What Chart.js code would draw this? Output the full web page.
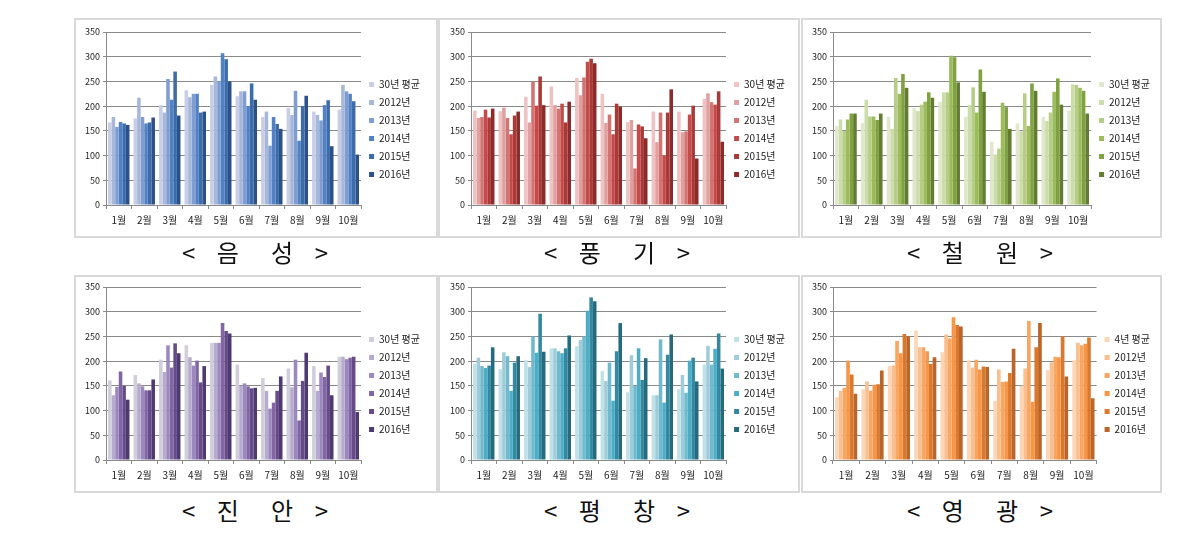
<!DOCTYPE html>
<html>
<head>
<meta charset="utf-8">
<script src="https://cdn.jsdelivr.net/npm/chart.js@4.4.1/dist/chart.umd.min.js"></script>
<style>
  body { margin: 0; background: #fff; width: 1203px; height: 547px; position: relative; overflow: hidden; }
  .frame { position: absolute; outline: 2px solid #d9d9d9; }
  canvas { position: absolute; }
  .ttl { position: absolute; font-family: "Noto Sans CJK KR", sans-serif; font-size: 24px; color: #111;
         white-space: pre; transform: translate(-50%, -50%); line-height: 1; }
</style>
</head>
<body>
<div class="frame" id="f0"></div>
<div class="frame" id="f1"></div>
<div class="frame" id="f2"></div>
<div class="frame" id="f3"></div>
<div class="frame" id="f4"></div>
<div class="frame" id="f5"></div>
<canvas id="c0"></canvas>
<canvas id="c1"></canvas>
<canvas id="c2"></canvas>
<canvas id="c3"></canvas>
<canvas id="c4"></canvas>
<canvas id="c5"></canvas>
<div class="ttl" style="left:255px;top:252px">&lt;    음      성    &gt;</div>
<div class="ttl" style="left:617px;top:252px">&lt;    풍      기    &gt;</div>
<div class="ttl" style="left:980px;top:252px">&lt;    철      원    &gt;</div>
<div class="ttl" style="left:255px;top:510px">&lt;    진      안    &gt;</div>
<div class="ttl" style="left:617px;top:510px">&lt;    평      창    &gt;</div>
<div class="ttl" style="left:980px;top:510px">&lt;    영      광    &gt;</div>
<script>
// Categories and legend labels
const months = ['1월', '2월', '3월', '4월', '5월', '6월', '7월', '8월', '9월', '10월'];
const yearLabels = ['30년 평균', '2012년', '2013년', '2014년', '2015년', '2016년'];
const yearLabels4 = ['4년 평균', '2012년', '2013년', '2014년', '2015년', '2016년'];

// Series values per station (rows: avg, 2012 .. 2016)
const eumseong = [
    [167, 175, 202, 232, 243, 220, 178, 196, 189, 193],
    [178, 217, 187, 218, 260, 230, 189, 182, 182, 243],
    [158, 178, 255, 225, 250, 230, 120, 231, 171, 230],
    [168, 165, 213, 225, 307, 200, 178, 130, 202, 225],
    [165, 167, 270, 187, 295, 246, 164, 200, 212, 210],
    [162, 177, 181, 189, 250, 213, 154, 221, 119, 102]
];
const punggi = [
    [191, 190, 219, 240, 257, 225, 168, 189, 189, 215],
    [176, 197, 167, 202, 222, 166, 172, 127, 147, 226],
    [178, 176, 249, 195, 258, 183, 74, 187, 149, 208],
    [193, 143, 201, 205, 290, 143, 163, 100, 183, 203],
    [177, 181, 260, 167, 296, 205, 159, 187, 201, 230],
    [195, 189, 202, 209, 287, 199, 135, 234, 94, 128]
];
const cheorwon = [
    [160, 166, 178, 196, 208, 178, 128, 165, 178, 191],
    [173, 213, 154, 190, 228, 202, 102, 149, 170, 244],
    [150, 179, 257, 203, 228, 238, 114, 226, 187, 243],
    [173, 179, 225, 209, 302, 187, 207, 160, 229, 237],
    [185, 172, 265, 228, 299, 274, 198, 246, 256, 231],
    [185, 185, 237, 217, 248, 229, 154, 231, 203, 185]
];
const jinan = [
    [161, 172, 203, 232, 237, 193, 166, 185, 190, 209],
    [131, 155, 178, 208, 237, 150, 140, 147, 140, 209],
    [148, 149, 232, 191, 237, 155, 104, 203, 177, 204],
    [179, 141, 187, 201, 277, 149, 116, 80, 168, 207],
    [150, 141, 236, 157, 261, 145, 140, 160, 191, 209],
    [122, 163, 216, 190, 256, 146, 169, 217, 131, 97]
];
const pyeongchang = [
    [195, 184, 202, 226, 230, 180, 137, 131, 143, 193],
    [207, 218, 188, 226, 243, 160, 212, 131, 172, 231],
    [190, 210, 250, 220, 250, 197, 150, 244, 136, 193],
    [186, 140, 217, 216, 302, 120, 226, 116, 201, 225],
    [191, 197, 296, 226, 329, 220, 162, 213, 207, 256],
    [228, 210, 219, 252, 321, 277, 206, 254, 159, 185]
];
const yeonggwang = [
    [127, 143, 190, 262, 218, 202, 120, 150, 182, 202],
    [140, 159, 191, 228, 254, 187, 183, 185, 198, 237],
    [146, 140, 241, 228, 246, 203, 158, 281, 209, 232],
    [201, 152, 216, 220, 289, 183, 159, 118, 208, 235],
    [173, 153, 255, 194, 273, 189, 176, 228, 250, 248],
    [134, 181, 250, 208, 270, 188, 225, 277, 169, 125]
];
const yTicks = [0, 50, 100, 150, 200, 250, 300, 350];

// Colour ramps, light to dark
const blues = ['#c7cee5', '#a7b7da', '#7f9dd1', '#5282c4', '#3d6cab', '#2c5088'];
const reds = ['#eec3c2', '#e0a09f', '#d37473', '#c44b4a', '#a93a38', '#8c2b29'];
const greens = ['#dfe8cb', '#ccdcaa', '#b5cd86', '#9cbc5b', '#7fa142', '#627d31'];
const purples = ['#d1cddb', '#b6abcd', '#9b88bf', '#8166a3', '#654c89', '#4e3a71'];
const teals = ['#c1e1e9', '#9ecdd9', '#71b9cc', '#4cadc7', '#3289a0', '#266b7d'];
const oranges = ['#fcd6b6', '#f9bf90', '#f8a762', '#f79648', '#da792d', '#ba6529'];

const panels = [
    { id: 0, data: eumseong, colors: blues, labels: yearLabels, left: 75, top: 20, w: 355, h: 215, yw: 31, pt: 12, frame: [76, 20, 360, 216] },
    { id: 1, data: punggi, colors: reds, labels: yearLabels, left: 440, top: 20, w: 355, h: 215, yw: 31, pt: 12, frame: [440, 20, 358, 216] },
    { id: 2, data: cheorwon, colors: greens, labels: yearLabels, left: 803, top: 20, w: 357, h: 215, yw: 30, pt: 12, frame: [803, 20, 357, 216] },
    { id: 3, data: jinan, colors: purples, labels: yearLabels, left: 75, top: 277, w: 355, h: 213, yw: 31, pt: 10, frame: [76, 277, 360, 214] },
    { id: 4, data: pyeongchang, colors: teals, labels: yearLabels, left: 440, top: 277, w: 355, h: 213, yw: 31, pt: 10, frame: [440, 277, 358, 214] },
    { id: 5, data: yeonggwang, colors: oranges, labels: yearLabels4, left: 803, top: 277, w: 357, h: 213, yw: 30, pt: 10, frame: [803, 277, 357, 214] }
];

const fontFam = '"Noto Sans CJK KR", "DejaVu Sans", sans-serif';
const gridColor = '#8a8a8a';

function createPanel(p) {
    const frame = document.getElementById('f' + p.id);
    frame.style.left = p.frame[0] + 'px';
    frame.style.top = p.frame[1] + 'px';
    frame.style.width = p.frame[2] + 'px';
    frame.style.height = p.frame[3] + 'px';

    const canvas = document.getElementById('c' + p.id);
    canvas.style.left = p.left + 'px';
    canvas.style.top = p.top + 'px';
    canvas.width = p.w;
    canvas.height = p.h;

    new Chart(canvas.getContext('2d'), {
        type: 'bar',
        data: {
            labels: months,
            datasets: p.data.map((values, i) => ({
                label: p.labels[i],
                data: values,
                backgroundColor: p.colors[i],
                borderWidth: 0
            }))
        },
        options: {
            responsive: false,
            animation: false,
            layout: { padding: { top: p.pt, right: 0, left: 0, bottom: 8 } },
            datasets: { bar: { categoryPercentage: 0.84, barPercentage: 1.0 } },
            plugins: {
                tooltip: { enabled: false },
                legend: {
                    position: 'right',
                    align: 'center',
                    labels: {
                        boxWidth: 5,
                        boxHeight: 5,
                        padding: 8,
                        color: '#222',
                        font: { family: fontFam, size: 10 }
                    }
                }
            },
            scales: {
                x: {
                    afterFit: scale => { scale.height = 22; },
                    grid: { display: true, drawOnChartArea: false, drawTicks: true, tickLength: 4, color: gridColor, offset: true },
                    border: { color: gridColor },
                    ticks: {
                        color: '#222', padding: 5, maxRotation: 0, minRotation: 0, autoSkip: false,
                        font: { family: fontFam, size: 10 }
                    }
                },
                y: {
                    min: 0,
                    max: 350,
                    afterFit: scale => { scale.width = p.yw; },
                    afterBuildTicks: scale => { scale.ticks = yTicks.map(v => ({ value: v })); },
                    grid: { color: gridColor, tickLength: 3 },
                    border: { color: gridColor },
                    ticks: { color: '#222', padding: 3, font: { family: fontFam, size: 9 } }
                }
            }
        }
    });
}

panels.forEach(createPanel);
</script>
</body>
</html>
